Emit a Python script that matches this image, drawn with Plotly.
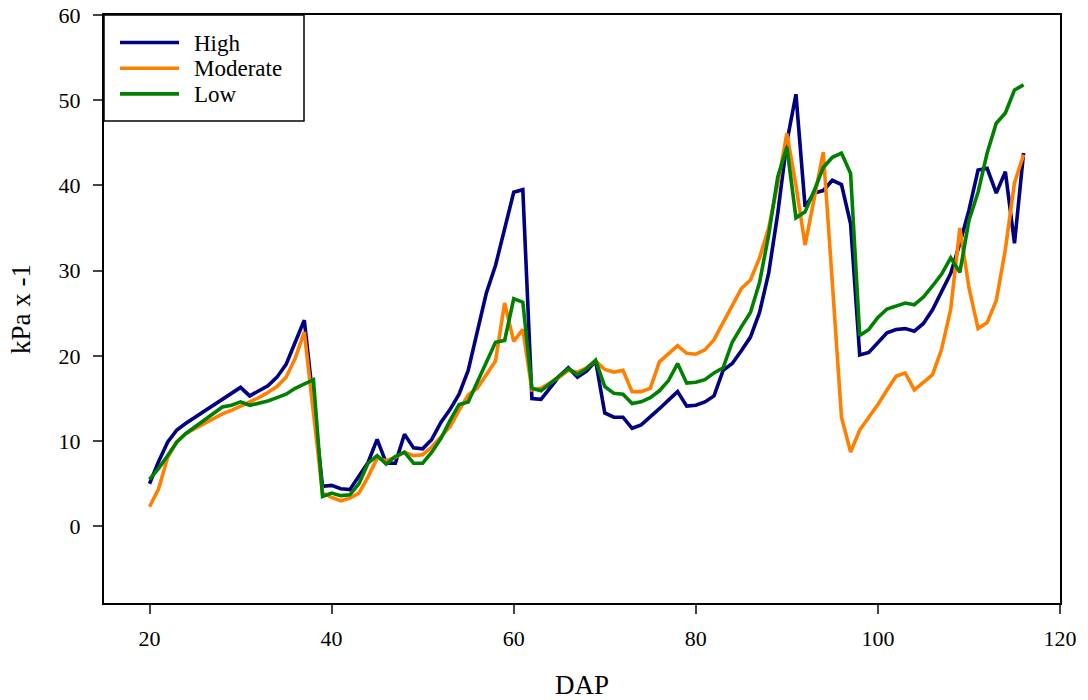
import plotly.graph_objects as go

# Days after planting
dap = list(range(20, 117))

high = [5.0, 7.6, 9.9, 11.3, 12.1, 12.8, 13.5, 14.2, 14.8, 15.6,
        16.3, 15.3, 15.9, 16.5, 17.5, 19.0, 21.6, 24.2, 14.5, 4.7,
        4.8, 4.4, 4.3, 5.9, 7.5, 10.2, 7.4, 7.4, 10.8, 9.2,
        9.1, 10.2, 12.2, 13.7, 15.5, 18.3, 22.9, 27.4, 30.6, 34.8,
        39.2, 39.5, 15.0, 14.9, 16.2, 17.6, 18.6, 17.5, 18.2, 19.4,
        13.3, 12.8, 12.8, 11.5, 11.9, 12.8, 13.8, 14.8, 15.8, 14.1,
        14.2, 14.6, 15.3, 18.3, 19.1, 20.6, 22.2, 25.1, 29.7, 36.7,
        45.1, 50.7, 37.5, 39.1, 39.4, 40.6, 40.1, 35.5, 20.1, 20.4,
        21.5, 22.7, 23.1, 23.2, 22.9, 23.8, 25.4, 27.5, 29.7, 33.2,
        37.1, 41.8, 42.0, 39.1, 41.6, 33.2, 43.8]

moderate = [2.3, 4.4, 8.1, 9.9, 10.9, 11.5, 12.1, 12.6, 13.2, 13.6,
            14.1, 14.5, 15.1, 15.7, 16.4, 17.5, 19.7, 22.8, 13.3, 3.9,
            3.4, 3.0, 3.3, 3.9, 5.8, 8.0, 7.7, 8.1, 8.7, 8.3,
            8.4, 9.3, 10.5, 11.7, 13.6, 15.4, 16.2, 17.8, 19.4, 26.2,
            21.7, 23.1, 16.0, 16.2, 16.8, 17.5, 18.3, 18.1, 18.6, 19.4,
            18.4, 18.1, 18.3, 15.8, 15.8, 16.2, 19.3, 20.3, 21.2, 20.3,
            20.2, 20.7, 21.9, 23.9, 26.0, 27.9, 28.9, 31.5, 35.0, 40.2,
            46.1, 40.0, 33.0, 38.5, 43.9, 28.5, 12.8, 8.7, 11.3, 12.8,
            14.3, 16.0, 17.6, 18.0, 16.0, 16.9, 17.8, 20.8, 25.5, 35.0,
            28.0, 23.2, 23.9, 26.5, 32.5, 40.3, 43.6]

low = [5.5, 6.8, 8.3, 9.9, 10.9, 11.7, 12.5, 13.3, 14.0, 14.2,
       14.6, 14.2, 14.4, 14.7, 15.1, 15.5, 16.2, 16.7, 17.2, 3.5,
       3.9, 3.6, 3.7, 5.0, 7.4, 8.3, 7.3, 8.2, 8.7, 7.4,
       7.4, 8.7, 10.3, 12.4, 14.3, 14.6, 17.0, 19.3, 21.6, 21.8,
       26.7, 26.3, 16.2, 15.9, 16.8, 17.7, 18.5, 17.8, 18.5, 19.5,
       16.4, 15.6, 15.5, 14.4, 14.6, 15.1, 15.9, 17.1, 19.1, 16.8,
       16.9, 17.2, 18.0, 18.6, 21.6, 23.4, 25.1, 28.6, 34.2, 41.0,
       44.5, 36.2, 36.9, 39.4, 42.1, 43.3, 43.8, 41.4, 22.4, 23.1,
       24.5, 25.5, 25.8, 26.2, 26.0, 26.9, 28.2, 29.6, 31.5, 29.8,
       35.9, 39.2, 43.8, 47.3, 48.5, 51.2, 51.8]

x_ticks = [20, 40, 60, 80, 100, 120]
y_ticks = [0, 10, 20, 30, 40, 50, 60]

series = [("High", high, "#000080"),
          ("Moderate", moderate, "#ff8000"),
          ("Low", low, "#008000")]

W, H = 1088, 700
M_L, M_R, M_T, M_B = 104, 28, 15, 97
serif = "Liberation Serif, Times New Roman, serif"


def px_x(px):
    # pixel column -> paper fraction of the plotting area
    return (px - M_L) / (W - M_L - M_R)


def px_y(py):
    # pixel row -> paper fraction of the plotting area
    return (H - M_B - py) / (H - M_T - M_B)


fig = go.Figure()
for name, vals, color in series:
    fig.add_trace(go.Scatter(x=dap, y=vals, mode="lines", name=name,
                             line=dict(color=color, width=3.6)))

# Boxed key in the upper-left corner
shapes = [dict(type="rect", xref="paper", yref="paper",
               x0=px_x(104), x1=px_x(304), y0=px_y(121), y1=px_y(15),
               line=dict(color="black", width=1.5), fillcolor="white",
               layer="above")]
annotations = []
for i, (name, _, color) in enumerate(series):
    row = 42.5 + i * 25.7
    shapes.append(dict(type="line", xref="paper", yref="paper",
                       x0=px_x(120), x1=px_x(179), y0=px_y(row), y1=px_y(row),
                       line=dict(color=color, width=3.6), layer="above"))
    annotations.append(dict(text=name, xref="paper", yref="paper",
                            x=px_x(192), y=px_y(row + 0.5), xanchor="left",
                            yanchor="middle", showarrow=False,
                            font=dict(family=serif, size=23, color="black")))

fig.update_layout(
    width=W, height=H,
    margin=dict(l=M_L, r=M_R, t=M_T, b=M_B),
    paper_bgcolor="white", plot_bgcolor="white",
    font=dict(family=serif, size=22, color="black"),
    showlegend=False,
    shapes=shapes,
    annotations=annotations,
)

fig.update_xaxes(range=[15, 120], tickvals=x_ticks, ticks="outside",
                 ticklen=9, tickwidth=1.5, showline=True, linewidth=2,
                 linecolor="black", mirror=True, showgrid=False,
                 zeroline=False, automargin=False,
                 tickfont=dict(family=serif, size=22),
                 ticklabelstandoff=6,
                 title=dict(text="DAP", font=dict(family=serif, size=27),
                            standoff=30))
fig.update_yaxes(range=[-9, 60], tickvals=y_ticks, ticks="outside",
                 ticklen=9, tickwidth=1.5, showline=True, linewidth=2,
                 linecolor="black", mirror=True, showgrid=False,
                 zeroline=False, automargin=False,
                 tickfont=dict(family=serif, size=22),
                 ticklabelstandoff=8,
                 title=dict(text="kPa x -1", font=dict(family=serif, size=27),
                            standoff=20))

fig.write_html("out.html")
